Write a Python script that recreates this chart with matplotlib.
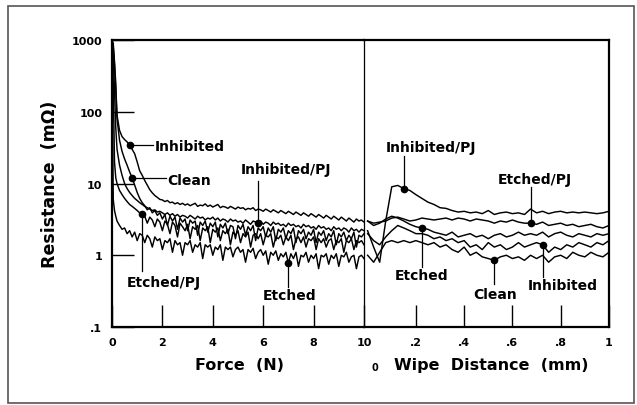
#!/usr/bin/env python

import matplotlib
matplotlib.use("Agg")
import matplotlib.pyplot as plt
import numpy as np
from matplotlib.patches import Rectangle

plt.rcParams["font.family"] = ["DejaVu Sans"]
plt.rcParams["font.weight"] = "bold"

# Force sweep (N): a few early samples, then every 0.1 N
force = np.concatenate([[0, 0.05, 0.1, 0.15], np.arange(2, 101) / 10])

force_inhibited = [
    1000, 800, 450, 200, 90, 55, 45, 41, 38, 34,
    30, 26, 20, 15, 13, 11, 9.5, 8.2, 7.4, 6.8,
    6.4, 6.0, 5.9, 5.6, 5.8, 5.4, 5.5, 5.2, 5.4, 5.1,
    5.3, 5.0, 5.2, 4.9, 5.1, 5.3, 4.8, 5.0, 4.9, 5.2,
    4.8, 5.0, 4.7, 4.9, 5.1, 4.6, 4.8, 4.7, 4.5, 4.8,
    4.6, 4.4, 4.7, 4.5, 4.6, 4.3, 4.5, 4.4, 4.6, 4.2,
    4.4, 4.3, 4.1, 4.4, 4.2, 4.0, 4.3, 4.1, 3.9, 4.2,
    4.0, 3.8, 4.1, 3.9, 3.7, 4.0, 3.8, 3.6, 3.9, 3.7,
    3.5, 3.8, 3.6, 3.4, 3.7, 3.5, 3.3, 3.6, 3.4, 3.2,
    3.5, 3.3, 3.1, 3.4, 3.2, 3.0, 3.3, 3.1, 2.9, 3.2,
    3.0, 3.1, 2.9,
]
force_inhibited_pj = [
    1000, 600, 200, 60, 30, 18, 13, 10, 8.5, 7.5,
    6.8, 6.2, 5.8, 5.4, 5.1, 4.8, 4.6, 4.4, 4.2, 4.3,
    4.0, 4.1, 3.9, 3.7, 3.9, 3.6, 3.8, 3.5, 3.7, 3.4,
    3.6, 3.5, 3.3, 3.6, 3.4, 3.2, 3.5, 3.3, 3.4, 3.1,
    3.3, 3.2, 3.4, 3.1, 3.3, 3.0, 3.2, 3.1, 2.9, 3.2,
    3.0, 3.1, 2.9, 3.0, 2.8, 3.1, 2.9, 2.7, 3.0, 2.9,
    2.8, 3.0, 2.7, 2.9, 2.8, 2.6, 2.9, 2.7, 2.8, 2.6,
    2.7, 2.5, 2.8, 2.6, 2.7, 2.5, 2.6, 2.4, 2.7, 2.5,
    2.6, 2.4, 2.5, 2.3, 2.6, 2.4, 2.5, 2.3, 2.4, 2.2,
    2.5, 2.3, 2.4, 2.2, 2.4, 2.3, 2.1, 2.4, 2.2, 2.3,
    2.1, 2.3, 2.2,
]
force_clean = [
    1000, 900, 500, 250, 80, 40, 28, 22, 18, 14.5,
    12, 9.5, 7.5, 6.2, 5.4, 4.9, 4.3, 4.6, 3.9, 4.2,
    3.6, 3.9, 3.2, 3.7, 2.6, 3.5, 3.0, 3.4, 2.3, 3.3,
    2.9, 3.2, 2.2, 3.1, 2.8, 3.0, 1.9, 2.9, 2.6, 3.0,
    2.1, 2.8, 2.5, 2.9, 1.8, 2.7, 2.4, 2.8, 2.0, 2.6,
    2.5, 1.7, 2.6, 2.3, 2.7, 1.9, 2.5, 2.2, 2.6, 1.6,
    2.4, 2.2, 2.5, 1.8, 2.4, 2.1, 2.5, 1.6, 2.3, 2.1,
    2.4, 1.7, 2.2, 2.0, 2.4, 1.5, 2.2, 2.0, 2.3, 1.7,
    2.1, 1.9, 2.3, 1.5, 2.1, 1.9, 2.2, 1.6, 2.0, 1.8,
    2.2, 1.4, 2.0, 1.8, 2.1, 1.6, 1.9, 1.7, 2.1, 1.3,
    1.9, 1.8, 2.0,
]
force_etched_pj = [
    1000, 250, 20, 12, 10, 8.0, 7.0, 6.2, 5.6, 5.1,
    4.8, 4.5, 4.2, 3.9, 3.7, 3.5, 2.8, 3.4, 3.1, 2.5,
    3.2, 2.9, 2.2, 3.0, 2.7, 2.0, 2.9, 2.6, 1.8, 2.8,
    2.5, 2.2, 2.7, 1.7, 2.5, 2.3, 2.6, 1.6, 2.4, 2.2,
    2.5, 1.5, 2.3, 2.1, 2.4, 1.6, 2.2, 2.0, 2.3, 1.4,
    2.1, 1.9, 2.2, 1.5, 2.0, 1.8, 2.1, 1.3, 1.9, 2.0,
    1.7, 2.0, 1.4, 1.9, 1.8, 2.0, 1.3, 1.8, 1.7, 1.9,
    1.4, 1.8, 1.6, 1.9, 1.2, 1.7, 1.8, 1.5, 1.8, 1.3,
    1.7, 1.6, 1.8, 1.2, 1.7, 1.5, 1.7, 1.3, 1.6, 1.7,
    1.2, 1.6, 1.5, 1.7, 1.1, 1.6, 1.5, 1.7, 1.2, 1.6,
    1.5, 1.6, 1.4,
]
force_etched = [
    1000, 6, 4.2, 3.5, 3.0, 2.6, 2.3, 2.4, 2.0, 2.2,
    1.8, 2.1, 1.6, 2.0, 1.9, 1.5, 1.9, 1.7, 1.3, 1.8,
    1.6, 1.7, 1.2, 1.6, 1.5, 1.7, 1.1, 1.6, 1.4, 1.5,
    1.0, 1.5, 1.4, 1.6, 1.1, 1.4, 1.3, 1.5, 0.9, 1.4,
    1.3, 1.4, 1.0, 1.3, 1.2, 1.4, 0.85, 1.3, 1.2, 1.3,
    0.95, 1.2, 1.3, 1.1, 1.2, 0.8, 1.2, 1.1, 1.25, 0.9,
    1.1, 1.2, 1.0, 1.15, 0.75, 1.1, 1.0, 1.15, 0.85, 1.05,
    0.95, 1.1, 0.78, 1.05, 0.9, 1.1, 0.7, 1.0, 0.95, 1.1,
    0.8, 1.0, 0.9, 1.05, 0.65, 1.0, 0.95, 1.05, 0.75, 1.0,
    0.9, 1.05, 0.7, 1.0, 0.95, 1.1, 0.8, 0.95, 1.0, 0.65,
    0.95, 1.0, 0.9,
]

# Wipe distance (mm), every 0.025 mm
wipe = np.arange(41) / 40

wipe_inhibited_pj = [
    2.2, 1.3, 0.8, 3.0, 9.0, 9.4, 8.5, 8.0, 7.0, 6.2,
    5.5, 5.1, 4.6, 4.5, 4.2, 4.0, 4.1, 3.9, 4.0, 3.8,
    4.2, 3.7, 3.9, 4.0, 3.8, 3.9, 3.7, 4.4, 3.9, 4.1,
    3.8, 4.0, 4.1, 3.9, 4.0, 3.9, 4.0, 3.9, 3.8, 3.9,
    4.1,
]
wipe_etched_pj = [
    3.0, 2.8, 2.9, 3.0, 3.3, 3.4, 3.2, 3.0, 3.1, 3.3,
    3.2, 3.1, 3.2, 3.3, 3.1, 3.3, 3.2, 3.0, 3.2, 3.1,
    3.0, 2.8, 3.0, 2.9, 3.1, 2.9, 2.8, 2.8, 2.7, 2.9,
    2.6, 2.7, 2.8, 2.6, 2.7, 2.5, 2.6, 2.7, 2.5, 2.4,
    2.6,
]
wipe_etched = [
    3.0, 2.6, 2.8, 3.2, 3.5, 3.3, 3.0, 2.7, 2.5, 2.4,
    2.3, 2.1, 2.0, 1.9, 2.1, 1.8, 1.9, 2.0, 1.8, 1.9,
    1.7, 1.9, 2.0, 1.8, 1.9, 2.1, 1.9, 2.0, 1.9, 2.1,
    1.8, 2.0, 2.1, 1.9, 1.8, 2.0, 1.9, 1.8, 2.0, 1.9,
    2.0,
]
wipe_clean = [
    1.0, 0.8, 1.1, 1.5, 1.6, 1.5, 1.6, 1.5, 1.6, 1.5,
    1.4, 1.5, 1.3, 1.4, 1.2, 1.1, 1.3, 1.0, 1.1, 0.95,
    0.9, 0.85, 0.95, 1.0, 0.9, 0.95, 0.85, 1.0, 0.9, 1.0,
    0.8, 0.95, 1.0, 0.9, 1.1, 1.0, 0.95, 1.1, 1.0, 0.95,
    1.1,
]
wipe_inhibited = [
    2.0, 1.6, 1.4, 1.8, 2.2, 2.6, 2.4, 2.2, 2.0, 2.0,
    1.9, 1.7, 1.8, 1.6, 1.7, 1.5, 1.6, 1.3, 1.4, 1.2,
    1.5, 1.3, 1.4, 1.2, 1.3, 1.5, 1.3, 1.4, 1.5, 1.4,
    1.1, 1.3, 1.2, 1.4, 1.3, 1.5, 1.4, 1.3, 1.5, 1.4,
    1.6,
]

force_series = {
    "Inhibited": force_inhibited,
    "Clean": force_clean,
    "Inhibited/PJ": force_inhibited_pj,
    "Etched/PJ": force_etched_pj,
    "Etched": force_etched,
}
wipe_series = {
    "Inhibited/PJ": wipe_inhibited_pj,
    "Etched/PJ": wipe_etched_pj,
    "Etched": wipe_etched,
    "Clean": wipe_clean,
    "Inhibited": wipe_inhibited,
}

# sample index of the dot on each curve
force_marks = {"Inhibited": 9, "Clean": 10, "Inhibited/PJ": 60,
               "Etched/PJ": 14, "Etched": 72}
wipe_marks = {"Inhibited/PJ": 6, "Etched/PJ": 27, "Etched": 9,
              "Clean": 21, "Inhibited": 29}

# label placement: (text x, text y, leader kind, leader end)
force_labels = {
    "Inhibited": (1.7, 33, "h", 1.62),
    "Clean": (2.2, 11.2, "h", 2.14),
    "Inhibited/PJ": (6.9, 15.9, "v", 10.8),
    "Etched/PJ": (2.06, 0.42, "v", 0.6),
    "Etched": (7.06, 0.28, "v", 0.36),
}
wipe_labels = {
    "Inhibited/PJ": (0.263, 32, "v", 24),
    "Etched/PJ": (0.694, 11.5, "v", 8.9),
    "Etched": (0.225, 0.53, "v", 0.69),
    "Clean": (0.528, 0.29, "v", 0.40),
    "Inhibited": (0.81, 0.38, "v", 0.50),
}


def draw_panel(ax, x, series, marks, labels):
    for name, vals in series.items():
        ax.plot(x, vals, color="black", lw=1.05)
        i = marks[name]
        ax.plot(x[i], vals[i], "o", color="black", ms=4.5)
        tx, ty, kind, end = labels[name]
        if kind == "h":
            ax.plot([x[i], end], [vals[i], vals[i]], color="black", lw=0.9)
            ax.text(tx, ty, name, ha="left", va="center", fontsize=10,
                    fontweight="bold")
        else:
            ax.plot([x[i], x[i]], [vals[i], end], color="black", lw=0.9)
            ax.text(tx, ty, name, ha="center", va="center", fontsize=10,
                    fontweight="bold")


def main():
    fig = plt.figure(figsize=(6.37, 4.06), dpi=100)
    fig.patches.append(Rectangle((0.0126, 0.005), 0.983, 0.978,
                                 transform=fig.transFigure, fill=False,
                                 edgecolor="#555555", lw=1.2))
    ax1 = fig.add_axes([0.1758, 0.1921, 0.3956, 0.7069])
    ax2 = fig.add_axes([0.5714, 0.1921, 0.3846, 0.7069], sharey=ax1)
    ax2.patch.set_alpha(0)

    draw_panel(ax1, force, force_series, force_marks, force_labels)
    draw_panel(ax2, wipe, wipe_series, wipe_marks, wipe_labels)

    ax1.set_yscale("log")
    ax1.set_ylim(0.1, 1000)
    ax1.set_xlim(0, 10)
    ax2.set_xlim(-0.015, 1.0)

    ax1.set_yticks([0.1, 1, 10, 100, 1000])
    ax1.set_yticklabels([".1", "1", "10", "100", "1000"])
    ax1.yaxis.set_minor_locator(matplotlib.ticker.NullLocator())
    ax1.set_xticks([0, 2, 4, 6, 8, 10])
    ax1.set_xticklabels(["0", "2", "4", "6", "8", "10"])
    ax2.set_xticks([0.2, 0.4, 0.6, 0.8, 1.0])
    ax2.set_xticklabels([".2", ".4", ".6", ".8", "1"])

    for ax in (ax1, ax2):
        ax.tick_params(direction="in", length=16, width=1.0, pad=7,
                       labelsize=8, top=False, right=False)
        for lab in ax.get_xticklabels() + ax.get_yticklabels():
            lab.set_fontweight("bold")
        for s in ax.spines.values():
            s.set_linewidth(1.6)
    ax1.spines["right"].set_visible(False)
    ax2.spines["left"].set_linewidth(0.9)
    ax2.tick_params(axis="y", left=False, labelleft=False)

    ax1.set_xlabel("Force  (N)", fontsize=11.5, fontweight="bold")
    ax1.xaxis.set_label_coords(0.508, -0.105)
    ax2.set_xlabel("Wipe  Distance  (mm)", fontsize=11.5, fontweight="bold")
    ax2.xaxis.set_label_coords(0.52, -0.105)
    ax2.text(0.045, -0.139, "0", transform=ax2.transAxes, ha="center",
             va="center", fontsize=7, fontweight="bold")
    ax1.set_ylabel("Resistance  (m\u03a9)", fontsize=12.5, fontweight="bold")
    ax1.yaxis.set_label_coords(-0.21, 0.5)

    fig.savefig("out.png", dpi=100)


if __name__ == "__main__":
    main()
